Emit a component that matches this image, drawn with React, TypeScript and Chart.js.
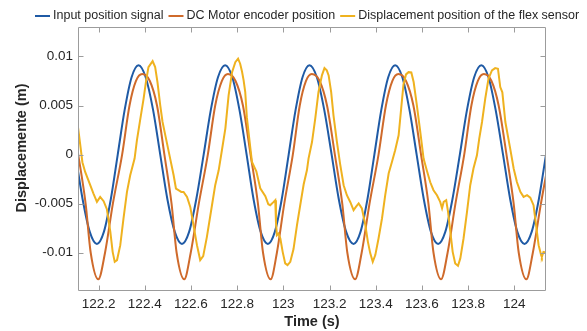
import React, { useEffect, useRef } from "react";
import { Chart, registerables } from "chart.js";

Chart.register(...registerables);

const seriesNames = [
  "Input position signal",
  "DC Motor encoder position",
  "Displacement position of the flex sensor",
];
const seriesColors = ["#1f5aa5", "#cf6a2b", "#efb21f"];

const xTitle = "Time (s)";
const yTitle = "Displacemente (m)";

const xMin = 122.111;
const xMax = 124.137;
const yMin = -0.0139;
const yMax = 0.013;

const xTickValues = [122.2, 122.4, 122.6, 122.8, 123, 123.2, 123.4, 123.6, 123.8, 124];
const xTickLabels = ["122.2", "122.4", "122.6", "122.8", "123", "123.2", "123.4", "123.6", "123.8", "124"];
const yTickValues = [-0.01, -0.005, 0, 0.005, 0.01];
const yTickLabels = ["-0.01", "-0.005", "0", "0.005", "0.01"];

// Input position signal
const inputTime = [
  122.100, 122.131, 122.162, 122.193, 122.223, 122.253, 122.283, 122.313, 122.343, 122.373,
  122.404, 122.436, 122.467, 122.498, 122.530, 122.561, 122.592, 122.623, 122.655, 122.686,
  122.717, 122.748, 122.779, 122.810, 122.841, 122.871, 122.902, 122.933, 122.963, 122.993,
  123.023, 123.053, 123.083, 123.113, 123.145, 123.177, 123.209, 123.240, 123.272, 123.304,
  123.334, 123.364, 123.394, 123.424, 123.454, 123.484, 123.515, 123.546, 123.577, 123.608,
  123.639, 123.670, 123.701, 123.732, 123.764, 123.795, 123.826, 123.857, 123.888, 123.919,
  123.951, 123.982, 124.013, 124.044, 124.075, 124.106, 124.137, 124.168,
];
const inputValue = [
  0, -0.00455, -0.00788, -0.0091, -0.00788, -0.00455, 0, 0.00455, 0.00788, 0.0091,
  0.00788, 0.00455, 0, -0.00455, -0.00788, -0.0091, -0.00788, -0.00455, 0, 0.00455,
  0.00788, 0.0091, 0.00788, 0.00455, 0, -0.00455, -0.00788, -0.0091, -0.00788, -0.00455,
  0, 0.00455, 0.00788, 0.0091, 0.00788, 0.00455, 0, -0.00455, -0.00788, -0.0091,
  -0.00788, -0.00455, 0, 0.00455, 0.00788, 0.0091, 0.00788, 0.00455, 0, -0.00455,
  -0.00788, -0.0091, -0.00788, -0.00455, 0, 0.00455, 0.00788, 0.0091, 0.00788, 0.00455,
  0, -0.00455, -0.00788, -0.0091, -0.00788, -0.00455, 0, 0.00455,
];

// DC Motor encoder position
const motorTime = [
  122.047, 122.078, 122.112, 122.144, 122.166, 122.199,
  122.228, 122.262, 122.302, 122.334, 122.362, 122.389,
  122.422, 122.453, 122.485, 122.516, 122.538, 122.571,
  122.599, 122.634, 122.673, 122.705, 122.734, 122.760,
  122.793, 122.825, 122.858, 122.890, 122.912, 122.945,
  122.972, 123.004, 123.041, 123.071, 123.098, 123.123,
  123.157, 123.189, 123.223, 123.255, 123.277, 123.311,
  123.339, 123.373, 123.412, 123.444, 123.472, 123.498,
  123.531, 123.563, 123.596, 123.628, 123.650, 123.683,
  123.711, 123.745, 123.783, 123.814, 123.842, 123.868,
  123.901, 123.932, 123.966, 123.997, 124.019, 124.052,
  124.080, 124.115, 124.154,
];
const motorValue = [
  0.0075, 0.005, 0, -0.005, -0.010, -0.0127,
  -0.010, -0.005, 0, 0.005, 0.0075, 0.0082,
  0.0075, 0.005, 0, -0.005, -0.010, -0.0127,
  -0.010, -0.005, 0, 0.005, 0.0075, 0.0082,
  0.0075, 0.005, 0, -0.005, -0.010, -0.0127,
  -0.010, -0.005, 0, 0.005, 0.0075, 0.0082,
  0.0075, 0.005, 0, -0.005, -0.010, -0.0127,
  -0.010, -0.005, 0, 0.005, 0.0075, 0.0082,
  0.0075, 0.005, 0, -0.005, -0.010, -0.0127,
  -0.010, -0.005, 0, 0.005, 0.0075, 0.0082,
  0.0075, 0.005, 0, -0.005, -0.010, -0.0127,
  -0.010, -0.005, 0,
];

// Displacement position of the flex sensor
const flexTime = [
  122.111, 122.121, 122.130, 122.142, 122.164, 122.178, 122.193, 122.207, 122.222, 122.236,
  122.251, 122.261, 122.270, 122.280, 122.294, 122.308, 122.323, 122.337, 122.356, 122.366,
  122.381, 122.395, 122.405, 122.416, 122.434, 122.445, 122.455, 122.467, 122.477, 122.492,
  122.510, 122.525, 122.535, 122.546, 122.558, 122.568, 122.583, 122.597, 122.611, 122.626,
  122.640, 122.653, 122.669, 122.691, 122.705, 122.720, 122.734, 122.749, 122.763, 122.778,
  122.792, 122.804, 122.813, 122.821, 122.828, 122.835, 122.842, 122.857, 122.864, 122.883,
  122.900, 122.922, 122.935, 122.943, 122.958, 122.965, 122.968, 122.972, 122.979, 122.987,
  122.997, 123.008, 123.018, 123.030, 123.044, 123.059, 123.073, 123.088, 123.102, 123.109,
  123.124, 123.138, 123.152, 123.167, 123.178, 123.188, 123.196, 123.207, 123.217, 123.232,
  123.246, 123.261, 123.275, 123.290, 123.304, 123.314, 123.326, 123.340, 123.355, 123.366,
  123.376, 123.387, 123.398, 123.412, 123.427, 123.441, 123.456, 123.470, 123.484, 123.499,
  123.510, 123.520, 123.531, 123.542, 123.554, 123.564, 123.578, 123.593, 123.607, 123.622,
  123.636, 123.650, 123.665, 123.679, 123.687, 123.694, 123.705, 123.713, 123.723, 123.733,
  123.744, 123.756, 123.766, 123.780, 123.795, 123.809, 123.823, 123.838, 123.848, 123.860,
  123.874, 123.888, 123.903, 123.917, 123.929, 123.939, 123.948, 123.961, 123.982, 123.997,
  124.011, 124.026, 124.040, 124.055, 124.069, 124.083, 124.094, 124.105, 124.116, 124.119,
  124.126, 124.137,
];
const flexValue = [
  0.00281, 0.00095, -0.00078, -0.00177, -0.00312, -0.00397, -0.00482, -0.00431, -0.00475, -0.00556,
  -0.00787, -0.00991, -0.01093, -0.01075, -0.00923, -0.00651, -0.00380, -0.00211, -0.00041, 0.00145,
  0.00366, 0.00570, 0.00739, 0.00891, 0.00952, 0.00891, 0.00739, 0.00502, 0.00332, 0.00163,
  -0.00041, -0.00211, -0.00346, -0.00363, -0.00380, -0.00380, -0.00431, -0.00533, -0.00719, -0.00923,
  -0.01075, -0.01035, -0.00838, -0.00516, -0.00312, -0.00160, 0.00044, 0.00268, 0.00603, 0.00840,
  0.00942, 0.00977, 0.00926, 0.00847, 0.00756, 0.00637, 0.00379, 0.00069, -0.00075, -0.00170,
  -0.00343, -0.00424, -0.00506, -0.00516, -0.00482, -0.00465, -0.00689, -0.00821, -0.00804, -0.00855,
  -0.00991, -0.01109, -0.01126, -0.01093, -0.00963, -0.00719, -0.00516, -0.00302, -0.00160, -0.00041,
  0.00128, 0.00366, 0.00637, 0.00807, 0.00881, 0.00858, 0.00807, 0.00637, 0.00400, 0.00128,
  -0.00099, -0.00312, -0.00414, -0.00485, -0.00567, -0.00533, -0.00498, -0.00549, -0.00719, -0.00889,
  -0.01004, -0.01093, -0.01024, -0.00855, -0.00651, -0.00414, -0.00190, -0.00075, 0.00044, 0.00196,
  0.00468, 0.00715, 0.00817, 0.00840, 0.00837, 0.00739, 0.00502, 0.00227, -0.00041, -0.00170,
  -0.00282, -0.00363, -0.00414, -0.00482, -0.00546, -0.00482, -0.00465, -0.00584, -0.00787, -0.00991,
  -0.01109, -0.01133, -0.01058, -0.00855, -0.00584, -0.00312, -0.00142, -0.00007, 0.00163, 0.00332,
  0.00570, 0.00773, 0.00858, 0.00881, 0.00875, 0.00688, 0.00634, 0.00332, 0.00061, -0.00142,
  -0.00279, -0.00380, -0.00431, -0.00414, -0.00439, -0.00516, -0.00719, -0.00923, -0.01024, -0.01042,
  -0.00991, -0.00997,
];

const FONT = "'Liberation Sans', Arial, Helvetica, sans-serif";
const AXIS_COLOR = "#9c9c9c";
const TEXT_COLOR = "#262626";

const toPoints = (xs: number[], ys: number[]) => xs.map((x, i) => ({ x, y: ys[i] }));

const decorPlugin = {
  id: "decor",
  afterDraw(chart: any) {
    const { ctx, chartArea: a, scales } = chart;
    const xs = scales.x;
    const ys = scales.y;
    ctx.save();
    ctx.strokeStyle = AXIS_COLOR;
    ctx.lineWidth = 1;
    const L = Math.round(a.left) + 0.5;
    const R = Math.round(a.right) - 0.5;
    const T = Math.round(a.top) + 0.5;
    const B = Math.round(a.bottom) - 0.5;
    ctx.beginPath();
    ctx.rect(L, T, R - L, B - T);
    const tl = 5;
    xTickValues.forEach((v) => {
      const px = Math.round(xs.getPixelForValue(v)) + 0.5;
      ctx.moveTo(px, B);
      ctx.lineTo(px, B - tl);
      ctx.moveTo(px, T);
      ctx.lineTo(px, T + tl);
    });
    yTickValues.forEach((v) => {
      const py = Math.round(ys.getPixelForValue(v)) + 0.5;
      ctx.moveTo(L, py);
      ctx.lineTo(L + tl, py);
      ctx.moveTo(R, py);
      ctx.lineTo(R - tl, py);
    });
    ctx.stroke();

    ctx.fillStyle = TEXT_COLOR;
    ctx.font = `bold 14.5px ${FONT}`;
    ctx.textAlign = "center";
    ctx.textBaseline = "middle";
    ctx.fillText(xTitle, (a.left + a.right) / 2, 321.5);
    ctx.save();
    ctx.translate(21.5, 148);
    ctx.rotate(-Math.PI / 2);
    ctx.fillText(yTitle, 0, 0);
    ctx.restore();

    ctx.font = `12.5px ${FONT}`;
    ctx.textAlign = "left";
    ctx.textBaseline = "middle";
    let x = 35;
    const y = 16;
    seriesNames.forEach((name, i) => {
      ctx.strokeStyle = seriesColors[i];
      ctx.lineWidth = 2;
      ctx.beginPath();
      ctx.moveTo(x, y);
      ctx.lineTo(x + 15, y);
      ctx.stroke();
      ctx.fillStyle = TEXT_COLOR;
      ctx.fillText(name, x + 18, y);
      x += 18 + ctx.measureText(name).width + 5;
    });
    ctx.restore();
  },
};

export default function App() {
  const canvasRef = useRef<HTMLCanvasElement | null>(null);

  useEffect(() => {
    const canvas = canvasRef.current;
    if (!canvas) return;
    const lineDs = (i: number, xs: number[], ys: number[], smooth: boolean, order: number) => ({
      label: seriesNames[i],
      data: toPoints(xs, ys),
      borderColor: seriesColors[i],
      backgroundColor: seriesColors[i],
      borderWidth: 2,
      pointRadius: 0,
      fill: false,
      tension: 0,
      cubicInterpolationMode: smooth ? "monotone" : "default",
      order,
    });
    const chart = new Chart(canvas, {
      type: "line",
      data: {
        datasets: [
          lineDs(0, inputTime, inputValue, true, 3),
          lineDs(1, motorTime, motorValue, true, 2),
          lineDs(2, flexTime, flexValue, false, 1),
        ] as any,
      },
      options: {
        animation: false,
        responsive: false,
        maintainAspectRatio: false,
        events: [],
        layout: { padding: { left: 0, right: 41, top: 27, bottom: 0 } },
        plugins: {
          legend: { display: false },
          tooltip: { enabled: false },
          title: { display: false },
        },
        scales: {
          x: {
            type: "linear",
            min: xMin,
            max: xMax,
            grid: { display: false, drawTicks: false },
            border: { display: false },
            afterBuildTicks: (s: any) => {
              s.ticks = xTickValues.map((value) => ({ value }));
            },
            afterFit: (s: any) => {
              s.height = 40;
            },
            ticks: {
              autoSkip: false,
              maxRotation: 0,
              padding: 5,
              color: TEXT_COLOR,
              font: { family: FONT, size: 13.5 },
              callback: (v: any) => {
                const i = xTickValues.findIndex((t) => Math.abs(t - Number(v)) < 1e-6);
                return i >= 0 ? xTickLabels[i] : "";
              },
            },
          },
          y: {
            type: "linear",
            min: yMin,
            max: yMax,
            grid: { display: false, drawTicks: false },
            border: { display: false },
            afterBuildTicks: (s: any) => {
              s.ticks = yTickValues.map((value) => ({ value }));
            },
            afterFit: (s: any) => {
              s.width = 78;
            },
            ticks: {
              autoSkip: false,
              padding: 5,
              color: TEXT_COLOR,
              font: { family: FONT, size: 13.5 },
              callback: (v: any) => {
                const i = yTickValues.findIndex((t) => Math.abs(t - Number(v)) < 1e-9);
                return i >= 0 ? yTickLabels[i] : "";
              },
            },
          },
        },
      } as any,
      plugins: [decorPlugin],
    });
    return () => chart.destroy();
  }, []);

  return (
    <div style={{ position: "absolute", left: 0, top: 0, width: 587, height: 331, background: "#ffffff" }}>
      <canvas ref={canvasRef} width={587} height={331} style={{ display: "block", width: 587, height: 331 }} />
    </div>
  );
}
